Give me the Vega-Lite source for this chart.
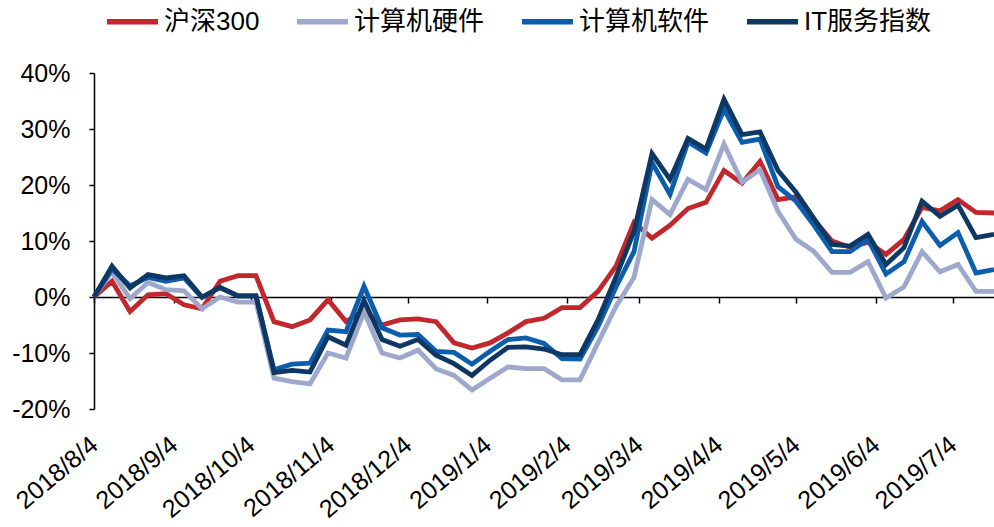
{
  "$schema": "https://vega.github.io/schema/vega-lite/v6.json",
  "width": 900,
  "height": 336,
  "autosize": {"type": "none"},
  "padding": {"left": 94, "top": 73, "right": 0, "bottom": 118},
  "background": "white",
  "config": {
    "view": {"stroke": null},
    "font": "Liberation Sans, Noto Sans CJK SC",
    "axis": {"grid": false, "title": null, "labelFont": "Liberation Sans, Noto Sans CJK SC", "labelColor": "#000000"}
  },
  "data": {
    "values": [
      {"date": "2018/08/04", "沪深300": 0, "计算机硬件": 0, "计算机软件": 0, "IT服务指数": 0},
      {"date": "2018/08/11", "沪深300": 2.8, "计算机硬件": 4.5, "计算机软件": 5.0, "IT服务指数": 5.5},
      {"date": "2018/08/18", "沪深300": -2.6, "计算机硬件": -0.3, "计算机软件": 2.0, "IT服务指数": 1.6},
      {"date": "2018/08/25", "沪深300": 0.4, "计算机硬件": 2.6, "计算机软件": 3.5, "IT服务指数": 4.0},
      {"date": "2018/09/01", "沪深300": 0.6, "计算机硬件": 1.3, "计算机软件": 2.8, "IT服务指数": 3.4},
      {"date": "2018/09/08", "沪深300": -1.4, "计算机硬件": 1.1, "计算机软件": 3.4, "IT服务指数": 3.8},
      {"date": "2018/09/15", "沪深300": -2.1, "计算机硬件": -2.1, "计算机软件": -0.1, "IT服务指数": 0.0},
      {"date": "2018/09/22", "沪深300": 2.8, "计算机硬件": 0.0, "计算机软件": 1.7, "IT服务指数": 1.7},
      {"date": "2018/09/29", "沪深300": 3.8, "计算机硬件": -0.9, "计算机软件": 0.2, "IT服务指数": 0.2},
      {"date": "2018/10/06", "沪深300": 3.8, "计算机硬件": -0.9, "计算机软件": 0.2, "IT服务指数": 0.2},
      {"date": "2018/10/13", "沪深300": -4.4, "计算机硬件": -14.5, "计算机软件": -13.0, "IT服务指数": -13.5},
      {"date": "2018/10/20", "沪深300": -5.3, "计算机硬件": -15.1, "计算机软件": -12.0, "IT服务指数": -13.1},
      {"date": "2018/10/27", "沪深300": -4.1, "计算机硬件": -15.5, "计算机软件": -11.8, "IT服务指数": -13.4},
      {"date": "2018/11/03", "沪深300": -0.5, "计算机硬件": -10.0, "计算机软件": -5.9, "IT服务指数": -7.1},
      {"date": "2018/11/10", "沪深300": -4.4, "计算机硬件": -10.9, "计算机软件": -6.2, "IT服务指数": -8.6},
      {"date": "2018/11/17", "沪深300": -2.3, "计算机硬件": -2.7, "计算机软件": 1.9, "IT服务指数": -0.6},
      {"date": "2018/11/24", "沪深300": -5.0, "计算机硬件": -10.0, "计算机软件": -5.5, "IT服务指数": -7.6},
      {"date": "2018/12/01", "沪深300": -4.1, "计算机硬件": -10.9, "计算机软件": -6.8, "IT服务指数": -8.8},
      {"date": "2018/12/08", "沪深300": -3.9, "计算机硬件": -9.5, "计算机软件": -6.7, "IT服务指数": -7.6},
      {"date": "2018/12/15", "沪深300": -4.4, "计算机硬件": -12.8, "计算机软件": -9.7, "IT服务指数": -10.4},
      {"date": "2018/12/22", "沪深300": -8.2, "计算机硬件": -14.0, "计算机软件": -9.9, "IT服务指数": -11.9},
      {"date": "2018/12/29", "沪深300": -9.1, "计算机硬件": -16.6, "计算机软件": -12.0, "IT服务指数": -14.0},
      {"date": "2019/01/05", "沪深300": -8.2, "计算机硬件": -14.5, "计算机软件": -9.7, "IT服务指数": -11.3},
      {"date": "2019/01/12", "沪深300": -6.4, "计算机硬件": -12.5, "计算机软件": -7.6, "IT服务指数": -9.0},
      {"date": "2019/01/19", "沪深300": -4.4, "计算机硬件": -12.8, "计算机软件": -7.3, "IT服务指数": -8.9},
      {"date": "2019/01/26", "沪深300": -3.8, "计算机硬件": -12.8, "计算机软件": -8.3, "IT服务指数": -9.3},
      {"date": "2019/02/02", "沪深300": -1.9, "计算机硬件": -14.8, "计算机软件": -11.0, "IT服务指数": -10.3},
      {"date": "2019/02/09", "沪深300": -1.9, "计算机硬件": -14.8, "计算机软件": -11.1, "IT服务指数": -10.3},
      {"date": "2019/02/16", "沪深300": 1.0, "计算机硬件": -8.2, "计算机软件": -5.3, "IT服务指数": -4.1},
      {"date": "2019/02/23", "沪深300": 5.5, "计算机硬件": -1.7, "计算机软件": 1.8, "IT服务指数": 3.6},
      {"date": "2019/03/02", "沪深300": 13.3, "计算机硬件": 3.5, "计算机软件": 8.1, "IT服务指数": 11.7},
      {"date": "2019/03/09", "沪深300": 10.5, "计算机硬件": 17.4, "计算机软件": 24.0, "IT服务指数": 25.6},
      {"date": "2019/03/16", "沪深300": 12.8, "计算机硬件": 14.7, "计算机软件": 18.3, "IT服务指数": 21.0},
      {"date": "2019/03/23", "沪深300": 15.8, "计算机硬件": 21.0, "计算机软件": 27.7, "IT服务指数": 28.3},
      {"date": "2019/03/30", "沪深300": 16.9, "计算机硬件": 19.2, "计算机软件": 25.7, "IT服务指数": 26.4},
      {"date": "2019/04/06", "沪深300": 22.6, "计算机硬件": 27.3, "计算机软件": 33.5, "IT服务指数": 35.3},
      {"date": "2019/04/13", "沪深300": 20.3, "计算机硬件": 20.5, "计算机软件": 27.6, "IT服务指数": 29.0},
      {"date": "2019/04/20", "沪深300": 24.2, "计算机硬件": 22.7, "计算机软件": 28.2, "IT服务指数": 29.5},
      {"date": "2019/04/27", "沪深300": 17.4, "计算机硬件": 15.3, "计算机软件": 19.7, "IT服务指数": 22.6},
      {"date": "2019/05/04", "沪深300": 17.9, "计算机硬件": 10.3, "计算机软件": 17.1, "IT服务指数": 18.7},
      {"date": "2019/05/11", "沪深300": 13.8, "计算机硬件": 8.1, "计算机软件": 12.8, "IT服务指数": 14.0},
      {"date": "2019/05/18", "沪深300": 10.0, "计算机硬件": 4.4, "计算机软件": 8.1, "IT服务指数": 9.4},
      {"date": "2019/05/25", "沪深300": 8.9, "计算机硬件": 4.4, "计算机软件": 8.1, "IT服务指数": 9.1},
      {"date": "2019/06/01", "沪深300": 9.8, "计算机硬件": 6.3, "计算机软件": 10.3, "IT服务指数": 11.2},
      {"date": "2019/06/08", "沪深300": 7.6, "计算机硬件": -0.2, "计算机软件": 4.1, "IT服务指数": 5.8},
      {"date": "2019/06/15", "沪深300": 10.3, "计算机硬件": 1.8, "计算机软件": 6.3, "IT服务指数": 8.8},
      {"date": "2019/06/22", "沪深300": 16.0, "计算机硬件": 8.1, "计算机软件": 13.5, "IT服务指数": 17.1},
      {"date": "2019/06/29", "沪深300": 15.4, "计算机硬件": 4.5, "计算机软件": 9.2, "IT服务指数": 14.4},
      {"date": "2019/07/06", "沪深300": 17.4, "计算机硬件": 5.8, "计算机软件": 11.5, "IT服务指数": 16.4},
      {"date": "2019/07/13", "沪深300": 15.1, "计算机硬件": 1.0, "计算机软件": 4.3, "IT服务指数": 10.6},
      {"date": "2019/07/20", "沪深300": 15.0, "计算机硬件": 1.0, "计算机软件": 4.9, "IT服务指数": 11.2}
    ]
  },
  "transform": [
    {"fold": ["沪深300", "计算机硬件", "计算机软件", "IT服务指数"], "as": ["series", "value"]}
  ],
  "layer": [
    {
      "mark": {"type": "line", "strokeWidth": 0, "opacity": 0},
      "encoding": {
        "x": {
          "field": "date", "type": "temporal",
          "scale": {"domain": [{"year": 2018, "month": 8, "date": 4}, {"year": 2019, "month": 7, "date": 20}], "nice": false},
          "axis": {
            "orient": "bottom", "offset": -112, "labels": false, "domain": true, "domainColor": "#000000", "domainWidth": 1.5,
            "ticks": true, "tickColor": "#000000", "tickWidth": 1.5, "tickSize": 6, "zindex": 0,
            "values": [
              {"year": 2018, "month": 8, "date": 4}, {"year": 2018, "month": 9, "date": 4}, {"year": 2018, "month": 10, "date": 4},
              {"year": 2018, "month": 11, "date": 4}, {"year": 2018, "month": 12, "date": 4}, {"year": 2019, "month": 1, "date": 4},
              {"year": 2019, "month": 2, "date": 4}, {"year": 2019, "month": 3, "date": 4}, {"year": 2019, "month": 4, "date": 4},
              {"year": 2019, "month": 5, "date": 4}, {"year": 2019, "month": 6, "date": 4}, {"year": 2019, "month": 7, "date": 4}
            ]
          }
        },
        "y": {"field": "value", "type": "quantitative"},
        "detail": {"field": "series"}
      }
    },
    {
      "mark": {"type": "line", "strokeWidth": 4.8, "strokeJoin": "miter", "strokeCap": "butt"},
      "encoding": {
        "x": {
          "field": "date", "type": "temporal",
          "axis": {
            "orient": "bottom", "domain": false, "ticks": false, "tickSize": 0, "labelAngle": -40, "labelAlign": "right",
            "labelBaseline": "middle", "labelPadding": 32, "labelFontSize": 25, "labelColor": "#000000", "labelDx": 3,
            "labelExpr": "timeFormat(datum.value, '%Y/%-m/%-d')", "labelOverlap": false,
            "values": [
              {"year": 2018, "month": 8, "date": 4}, {"year": 2018, "month": 9, "date": 4}, {"year": 2018, "month": 10, "date": 4},
              {"year": 2018, "month": 11, "date": 4}, {"year": 2018, "month": 12, "date": 4}, {"year": 2019, "month": 1, "date": 4},
              {"year": 2019, "month": 2, "date": 4}, {"year": 2019, "month": 3, "date": 4}, {"year": 2019, "month": 4, "date": 4},
              {"year": 2019, "month": 5, "date": 4}, {"year": 2019, "month": 6, "date": 4}, {"year": 2019, "month": 7, "date": 4}
            ]
          }
        },
        "y": {
          "field": "value", "type": "quantitative",
          "scale": {"domain": [-20, 40], "nice": false, "zero": false},
          "axis": {
            "values": [-20, -10, 0, 10, 20, 30, 40], "labelExpr": "datum.value + '%'", "labelFontSize": 25,
            "domainColor": "#000000", "domainWidth": 1.5, "tickColor": "#000000", "tickWidth": 1.5, "tickSize": 5,
            "labelPadding": 19
          }
        },
        "color": {
          "field": "series", "type": "nominal",
          "scale": {
            "domain": ["沪深300", "计算机硬件", "计算机软件", "IT服务指数"],
            "range": ["#C1272D", "#9DA8CC", "#0B5DAD", "#0E3763"]
          },
          "legend": {
            "title": null, "orient": "none", "direction": "horizontal", "legendX": 10, "legendY": -80,
            "symbolType": "stroke", "symbolSize": 2600, "symbolStrokeWidth": 5.5, "labelFontSize": 26,
            "labelFont": "Liberation Sans, Noto Sans CJK SC", "labelColor": "#000000", "labelOffset": 3,
            "columnPadding": 26, "padding": 0, "labelLimit": 400
          }
        }
      }
    }
  ],
  "resolve": {"axis": {"x": "independent"}}
}
